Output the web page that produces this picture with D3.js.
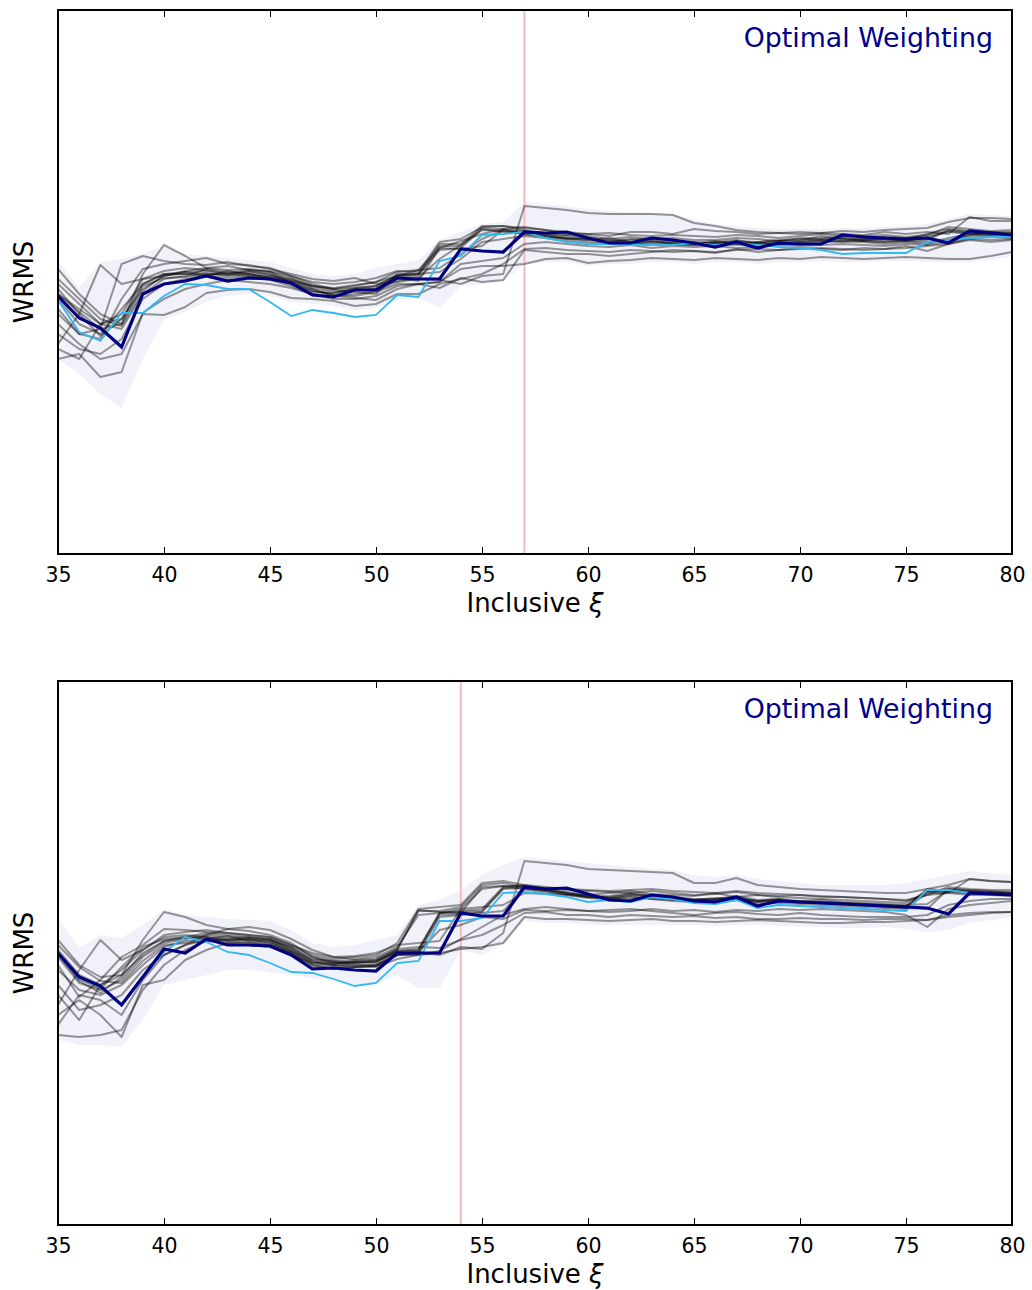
<!DOCTYPE html>
<html>
<head>
<meta charset="utf-8">
<script src="https://cdn.jsdelivr.net/npm/d3@7"></script>
<style>
  body { margin: 0; background: #fff; }
  text { font-family: "DejaVu Sans", sans-serif; }
</style>
</head>
<body>
<div id="chart"></div>
<script>
// x positions (inclusive xi), one value per integer 35..80
var xi = d3.range(35, 81);
var xTicks = [35, 40, 45, 50, 55, 60, 65, 70, 75, 80];
var yDomain = [0, 54.4]; // WRMS, arbitrary units (no tick labels in the original)

// ---- top panel ----
var topCut = 57;
var topOptimal = [25.8,23.6,22.6,20.7,26.0, 27.0,27.3,27.8,27.3,27.6, 27.5,27.1,25.9,25.7,26.4,
  26.4,27.6,27.5,27.5,30.5, 30.3,30.2,32.2,32.1,32.2, 31.6,31.1,31.1,31.6,31.4,
  31.1,30.7,31.2,30.6,31.1, 31.0,31.0,31.9,31.7,31.6, 31.5,31.6,31.1,32.3,32.1, 31.9];
var topCyan = [25.4,22.2,21.3,24.1,24.1, 25.8,27.0,26.9,26.5,26.5, 25.2,23.8,24.4,24.1,23.7,
  23.9,25.9,25.7,29.3,29.8, 31.9,32.0,32.2,31.6,31.2, 31.0,31.0,30.9,30.9,30.9,
  31.1,30.9,31.1,30.9,30.7, 30.6,30.4,30.0,30.1,30.1, 30.1,31.2,31.4,31.6,31.7, 31.8];
var topBandHi = [29.4,26.6,29.2,29.5,30.0, 30.8,30.0,29.8,29.6,29.4, 29.2,28.6,28.0,27.8,28.0,
  28.6,29.0,29.4,31.4,32.2, 33.0,33.2,35.2,35.0,34.8, 34.5,34.3,34.2,34.1,34.0,
  33.4,33.0,32.8,32.6,32.5, 32.5,32.5,32.6,32.6,32.7, 32.8,33.0,33.5,34.0,33.9, 33.8];
var topBandLo = [19.5,18.0,16.0,14.6,19.5, 23.4,24.2,25.2,25.8,26.0, 25.8,25.2,25.0,24.8,24.4,
  24.6,25.4,25.6,24.6,26.8, 27.0,27.2,29.0,29.2,29.2, 28.8,29.0,29.0,29.2,29.2,
  29.0,29.2,29.2,29.0,29.2, 29.2,29.3,29.2,29.2,29.3, 29.3,29.2,29.2,29.2,29.4, 29.8];
var topRuns = [
  [26.5,24.0,21.8,23.5,26.5, 27.8,28.2,28.3,28.0,28.2, 28.0,27.0,26.3,26.0,26.5, 26.6,27.8,27.8,30.8,30.8,
   32.6,32.5,32.3,32.0,31.8, 31.5,31.3,31.4,31.6,31.3, 31.2,31.0,31.3,31.2,31.4, 31.5,31.6,31.7,31.6,31.7,
   31.6,31.8,32.2,32.0,32.1, 32.0],
  [25.5,23.0,22.0,24.5,27.0, 28.0,28.0,27.8,28.3,28.0, 27.6,27.2,26.5,25.8,26.0, 26.3,27.3,27.6,29.5,30.9,
   32.4,32.3,32.0,31.7,31.6, 31.4,31.6,31.2,31.4,31.0, 31.1,31.3,31.0,31.1,31.0, 31.2,31.4,31.3,31.5,31.4,
   31.3,31.4,32.4,32.2,32.0, 32.1],
  [27.0,25.0,23.0,22.5,26.0, 27.5,27.8,28.5,28.2,28.0, 27.8,27.3,26.8,26.4,26.2, 26.0,28.0,28.0,31.0,31.0,
   32.8,32.8,32.4,32.0,31.9, 31.8,31.5,31.7,31.5,31.6, 31.4,31.4,31.6,31.5,31.3, 31.4,31.8,31.5,31.4,31.5,
   31.5,32.0,32.5,32.3,32.2, 32.2],
  [28.5,26.0,24.0,23.0,28.0, 30.9,29.8,28.6,28.8,28.4, 28.2,27.6,26.8,26.5,26.8, 27.2,28.2,28.4,28.6,30.0,
   31.5,32.4,32.2,31.8,31.5, 31.6,31.4,31.2,31.2,31.0, 30.9,31.2,31.0,30.8,31.1, 31.0,31.2,31.3,31.2,31.0,
   31.2,31.0,31.6,32.0,31.8, 31.9],
  [23.0,21.0,19.5,20.0,24.0, 23.9,24.7,26.1,26.4,26.5, 26.2,25.6,25.5,25.3,24.8, 25.0,26.0,26.0,27.0,27.5,
   28.0,29.0,30.5,30.6,30.4, 30.3,30.2,30.4,30.3,30.2, 30.3,30.2,30.4,30.5,30.4, 30.6,30.5,30.4,30.6,30.5,
   30.6,30.8,31.0,31.5,31.4, 31.5],
  [21.0,24.0,28.9,27.0,27.5, 27.8,28.3,28.6,28.4,28.5, 28.3,27.8,27.0,26.5,26.6, 26.8,27.8,28.0,28.2,29.5,
   31.2,31.5,31.8,31.6,31.3, 31.0,31.1,31.0,31.2,31.1, 31.0,31.1,31.2,31.1,31.0, 31.2,31.3,31.2,31.3,31.2,
   31.3,31.2,31.4,31.8,31.9, 31.8],
  [19.5,20.0,17.7,18.2,24.1, 25.5,26.5,27.0,27.4,27.2, 27.0,26.6,26.0,25.8,25.6, 25.4,26.5,27.0,27.2,28.5,
   28.8,28.8,29.0,29.5,29.6, 29.1,29.3,29.4,29.6,29.5, 29.4,29.6,29.5,29.4,29.6, 29.5,29.7,29.6,29.5,29.6,
   29.7,29.6,29.5,29.5,29.8, 30.2],
  [24.0,22.0,21.5,25.5,28.5, 29.0,29.3,29.6,29.0,28.9, 28.5,28.0,27.5,27.3,27.6, 27.0,27.2,27.5,27.4,27.0,
   27.8,28.0,34.8,34.6,34.4, 34.1,34.0,34.0,34.0,33.9, 33.1,32.8,32.4,32.2,32.1, 32.0,32.1,32.3,32.2,32.4,
   32.5,32.6,33.2,33.6,33.6, 33.5],
  [26.0,24.5,23.0,24.0,27.5, 28.3,28.6,28.4,28.0,27.8, 27.7,27.4,26.8,26.6,26.9, 27.2,27.8,28.4,30.6,31.3,
   32.0,32.5,32.7,32.4,32.0, 32.0,31.8,32.2,32.2,32.0, 32.5,32.3,32.2,32.0,32.1, 32.2,32.1,32.0,31.9,32.2,
   32.0,32.2,32.0,33.7,33.3, 33.3],
  [22.0,20.5,20.0,21.5,25.5, 27.0,27.5,27.8,27.6,27.8, 27.4,26.8,26.0,25.5,25.5, 25.8,26.8,27.0,26.6,27.6,
   27.2,27.4,30.4,30.2,30.0, 30.0,29.8,30.0,30.2,30.4, 30.3,30.1,30.5,30.2,30.4, 30.5,30.6,30.5,30.4,30.5,
   30.8,30.3,31.0,31.4,31.2, 31.4],
  [26.0,24.2,22.5,23.0,26.8, 27.6,27.7,28.0,27.9,28.3, 27.9,27.5,26.6,26.2,26.4, 26.5,27.6,27.3,30.6,30.5,
   30.8,32.4,32.0,31.8,31.5, 31.2,31.0,31.1,31.0,30.9, 30.9,31.0,30.9,31.2,31.3, 31.6,31.4,31.5,31.3,31.2,
   31.4,31.6,31.3,31.9,32.2, 32.0],
  [24.5,22.0,22.5,29.0,29.8, 29.3,29.0,28.9,29.2,28.8, 28.6,27.8,27.2,27.0,27.2, 27.6,28.3,28.2,31.2,31.5,
   32.7,32.8,32.6,32.4,32.2, 32.0,32.1,31.9,31.8,31.9, 31.8,31.7,31.9,31.8,31.6, 31.8,32.0,31.8,31.8,31.9,
   31.7,31.9,32.7,32.5,32.3, 32.4],
  [20.5,19.5,23.0,23.5,27.0, 28.0,28.2,27.9,28.1,28.4, 28.2,27.2,26.4,25.9,25.8, 26.2,27.0,27.0,27.2,29.0,
   29.3,29.6,31.0,31.2,31.0, 30.8,30.7,30.9,30.6,30.8, 30.7,30.8,30.6,30.7,30.9, 30.8,30.9,31.0,30.9,30.8,
   31.0,30.9,31.2,31.6,31.7, 31.6],
  [27.5,25.5,23.5,22.8,26.3, 27.9,28.0,28.1,27.8,28.0, 27.6,27.0,26.2,26.1,26.6, 26.8,27.9,28.0,30.4,30.6,
   32.5,32.2,32.1,31.9,31.6, 31.4,31.2,31.5,31.3,31.2, 31.0,31.2,31.4,31.0,31.3, 31.3,31.5,31.6,31.4,31.5,
   31.4,31.6,32.3,32.1,32.0, 31.9]
];

// ---- bottom panel ----
var botCut = 54;
var botOptimal = [27.2,24.8,23.9,22.0,24.8, 27.6,27.2,28.6,28.0,28.0, 27.9,27.0,25.6,25.7,25.5,
  25.4,27.2,27.2,27.2,31.2, 30.9,30.9,33.8,33.6,33.7, 33.1,32.5,32.4,33.0,32.8,
  32.4,32.3,32.8,31.9,32.4, 32.3,32.2,32.1,32.0,31.9, 31.8,31.7,31.1,33.2,33.1, 33.0];
var botCyan = [27.2,24.7,23.8,22.1,24.9, 27.3,28.8,28.3,27.3,27.0, 26.2,25.3,25.2,24.6,23.9,
  24.2,26.2,26.4,30.4,30.4, 30.7,33.2,33.3,33.1,32.8, 32.3,32.5,32.3,32.8,32.6,
  32.2,32.1,32.5,31.7,32.0, 31.9,31.8,31.7,31.6,31.5, 31.4,33.5,33.5,33.2,33.1, 33.0];
var botBandHi = [30.7,27.7,29.0,28.7,30.0, 31.6,31.0,30.8,30.6,30.5, 30.4,29.5,28.2,27.8,28.0,
  28.5,29.0,32.0,32.5,33.5, 35.0,36.0,36.8,36.6,36.4, 36.2,36.0,35.8,35.6,35.5,
  35.0,34.8,35.0,34.6,34.4, 34.2,34.0,34.0,34.0,34.0, 34.2,34.6,35.0,35.4,35.2, 35.0];
var botBandLo = [18.5,18.0,18.0,17.8,20.5, 24.0,24.5,25.0,25.5,25.5, 25.3,25.0,24.7,24.5,24.0,
  24.0,25.0,23.7,23.7,27.5, 27.0,28.0,30.4,30.2,30.2, 30.0,30.0,30.0,30.0,30.0,
  30.0,29.9,30.0,30.0,29.9, 29.8,29.8,29.7,29.7,29.8, 29.6,29.3,29.5,30.2,30.5, 30.8];
var botRuns = [
  [27.5,25.0,24.0,25.5,27.5, 28.8,29.0,28.8,28.6,28.5, 28.4,27.6,26.6,26.4,26.2, 26.3,27.5,31.4,31.4,31.8,
   34.0,34.2,33.8,33.5,33.3, 33.0,33.2,33.4,33.1,33.0, 32.9,33.2,32.8,33.0,32.8, 32.7,32.6,32.5,32.4,32.3,
   32.2,33.4,33.6,33.4,33.3, 33.2],
  [26.8,24.2,23.5,24.5,26.8, 28.2,28.6,29.0,28.8,28.7, 28.6,27.8,26.4,26.0,26.2, 26.4,27.4,27.6,31.2,31.4,
   31.6,33.8,34.0,33.6,33.2, 32.9,32.8,33.0,33.0,32.8, 32.6,32.6,32.9,32.5,32.6, 32.4,32.5,32.3,32.2,32.1,
   32.0,32.1,33.5,33.4,33.3, 33.3],
  [28.5,26.0,24.8,25.0,28.5, 31.3,30.8,30.0,29.6,29.8, 29.5,28.6,27.5,26.8,26.6, 26.8,27.8,31.0,31.2,31.6,
   33.6,33.9,33.9,33.7,33.5, 33.4,33.3,33.2,33.4,33.2, 33.0,33.1,33.3,33.0,32.9, 33.0,32.8,32.8,32.7,32.6,
   32.5,33.0,33.8,33.6,33.5, 33.5],
  [22.0,25.5,28.5,26.5,27.5, 29.0,29.3,29.5,29.2,29.0, 28.8,28.0,27.2,26.8,26.9, 27.2,28.0,28.2,28.4,31.6,
   31.8,32.0,33.2,33.1,33.0, 32.8,32.7,32.6,32.8,32.7, 32.5,32.7,32.6,32.4,32.5, 32.3,32.2,32.2,32.0,31.9,
   31.8,33.6,33.4,33.2,33.1, 33.0],
  [19.0,18.8,19.0,19.5,23.5, 26.0,27.5,28.4,28.6,28.8, 28.5,27.8,26.8,26.2,26.3, 26.4,27.2,27.3,27.0,27.8,
   27.6,29.2,36.4,36.2,36.0, 35.6,35.5,35.4,35.3,35.2, 34.2,34.2,34.7,34.0,33.8, 33.6,33.5,33.4,33.3,33.2,
   33.2,33.6,34.0,34.6,34.4, 34.3],
  [21.0,22.5,21.0,18.8,24.0, 24.5,26.5,27.5,28.2,28.0, 27.8,27.0,26.2,26.0,25.8, 25.8,26.6,27.0,27.2,27.6,
   27.8,28.2,30.8,30.6,30.6, 30.5,30.4,30.5,30.6,30.4, 30.4,30.3,30.4,30.5,30.4, 30.3,30.2,30.2,30.3,30.3,
   30.4,30.5,30.8,31.0,31.2, 31.3],
  [24.0,21.5,22.0,23.0,25.5, 27.0,28.0,28.5,28.4,28.6, 28.2,27.4,26.5,26.3,26.0, 25.9,27.0,27.3,29.5,30.0,
   30.8,30.6,31.5,31.4,31.5, 31.4,31.3,31.4,31.6,31.4, 31.5,31.3,31.5,31.4,31.6, 31.5,31.6,31.5,31.4,31.3,
   31.0,29.8,31.6,32.0,32.2, 32.4],
  [27.0,24.6,23.6,25.8,27.8, 28.6,28.8,29.2,29.0,28.8, 28.6,27.6,26.2,26.1,26.4, 26.5,27.6,31.5,31.3,31.2,
   33.8,33.9,33.6,33.2,33.0, 32.7,32.6,32.9,32.6,32.5, 32.4,32.4,32.6,32.3,32.4, 32.4,32.3,32.2,32.1,32.0,
   31.9,33.4,33.3,33.2,33.2, 33.1],
  [25.5,23.5,23.0,24.0,26.0, 27.8,28.4,28.6,28.5,28.6, 28.4,27.4,26.0,25.9,26.0, 26.0,27.3,27.4,31.0,31.1,
   31.3,33.6,33.7,33.4,33.1, 32.8,32.9,33.2,32.9,32.6, 32.5,32.5,32.7,32.3,32.5, 32.2,32.2,32.1,32.0,31.8,
   31.7,31.6,33.6,33.5,33.4, 33.2],
  [26.0,22.8,24.5,26.8,28.0, 29.6,29.5,29.3,29.2,29.0, 28.8,28.0,27.0,26.6,26.8, 27.0,28.2,31.6,31.8,32.0,
   34.2,34.4,34.0,33.8,33.6, 33.5,33.4,33.5,33.6,33.4, 33.3,33.2,33.4,33.2,33.1, 33.0,32.9,32.8,32.7,32.6,
   32.4,33.0,33.2,34.6,34.4, 34.3],
  [23.0,20.5,24.0,25.0,27.0, 28.4,28.7,28.8,28.4,28.2, 28.0,27.2,26.0,25.6,25.8, 26.0,27.0,27.0,27.4,28.6,
   29.8,31.0,31.6,31.8,31.6, 31.4,31.5,31.6,31.4,31.2, 31.0,31.2,31.3,31.1,31.0, 31.2,31.0,30.9,30.8,30.8,
   30.8,31.0,32.0,32.4,32.6, 32.6],
  [28.0,25.8,24.4,24.2,26.4, 28.0,28.2,28.4,28.2,28.3, 28.0,27.2,25.8,25.7,25.8, 25.9,27.0,27.1,30.8,31.0,
   31.2,31.4,33.6,33.5,33.2, 32.8,32.6,32.8,32.6,32.4, 32.3,32.3,32.5,32.1,32.2, 32.1,32.0,31.9,31.8,31.7,
   31.6,33.2,33.2,33.0,33.0, 32.9],
  [20.0,23.0,22.5,21.0,24.5, 27.0,28.0,29.0,29.6,29.4, 29.0,28.2,26.8,26.4,26.5, 26.6,27.6,27.8,27.7,28.5,
   29.0,30.0,31.2,31.3,31.0, 31.0,30.8,31.0,30.9,30.8, 30.9,30.7,30.8,30.6,30.6, 30.7,30.6,30.6,30.5,30.6,
   30.6,30.5,31.0,31.2,31.3, 31.3],
  [27.2,24.4,23.2,24.8,27.2, 28.4,28.8,28.6,28.9,28.4, 28.2,27.3,26.3,26.2,26.3, 26.2,27.4,27.5,31.2,31.3,
   31.4,33.7,33.8,33.4,33.1, 33.0,32.7,33.1,32.8,32.7, 32.5,32.6,32.8,32.4,32.6, 32.3,32.3,32.2,32.1,32.0,
   31.9,33.3,33.5,33.3,33.2, 33.1]
];

var W = 1032, H = 1290;
var svg = d3.select("#chart").append("svg").attr("width", W).attr("height", H);

var x = d3.scaleLinear().domain([35, 80]).range([58, 1012]);

function drawPanel(top, runs, bandHi, bandLo, cyan, optimal, cut) {
  var h = 544;
  var y = d3.scaleLinear().domain(yDomain).range([top + h, top]);
  var g = svg.append("g");

  // clip so lines stay inside the frame
  var cid = "clip" + top;
  svg.append("clipPath").attr("id", cid).append("rect")
    .attr("x", 58).attr("y", top).attr("width", 954).attr("height", h);
  var plot = g.append("g").attr("clip-path", "url(#" + cid + ")");

  var band = d3.area().x(function(d, i){ return x(xi[i]); })
    .y0(function(d, i){ return y(bandLo[i]); })
    .y1(function(d){ return y(d); });
  plot.append("path").datum(bandHi).attr("d", band)
    .attr("fill", "#f1f1f9").attr("stroke", "none");

  plot.append("line")
    .attr("x1", x(cut)).attr("x2", x(cut))
    .attr("y1", top).attr("y2", top + h)
    .attr("stroke", "#f2bcbe").attr("stroke-width", 2);

  var line = d3.line().x(function(d, i){ return x(xi[i]); }).y(function(d){ return y(d); });

  plot.selectAll("path.run").data(runs).enter().append("path")
    .attr("class", "run")
    .attr("d", line)
    .attr("fill", "none")
    .attr("stroke", "#000")
    .attr("stroke-opacity", 0.4)
    .attr("stroke-width", 2)
    .attr("stroke-linejoin", "round");

  plot.append("path").datum(cyan).attr("d", line)
    .attr("fill", "none").attr("stroke", "#33b9f2").attr("stroke-width", 1.8);

  plot.append("path").datum(optimal).attr("d", line)
    .attr("fill", "none").attr("stroke", "#000080").attr("stroke-width", 3.2);

  // axes: inward ticks on bottom and top, no y ticks
  var bottomAx = d3.axisBottom(x).tickValues(xTicks).tickSizeInner(-7).tickSizeOuter(0).tickPadding(13);
  var gb = g.append("g").attr("transform", "translate(0," + (top + h) + ")").call(bottomAx);
  gb.select(".domain").remove();
  gb.selectAll("line").attr("stroke", "#000").attr("stroke-width", 1);
  gb.selectAll("text").attr("font-size", 20.5).attr("fill", "#000")
    .attr("font-family", "DejaVu Sans");

  var topAx = d3.axisTop(x).tickValues(xTicks).tickSizeInner(-7).tickSizeOuter(0).tickFormat("");
  var gt = g.append("g").attr("transform", "translate(0," + top + ")").call(topAx);
  gt.select(".domain").remove();
  gt.selectAll("line").attr("stroke", "#000").attr("stroke-width", 1);

  g.append("rect").attr("x", 58).attr("y", top).attr("width", 954).attr("height", h)
    .attr("fill", "none").attr("stroke", "#000").attr("stroke-width", 2);

  g.append("text").attr("x", 993).attr("y", top + 37)
    .attr("text-anchor", "end").attr("font-size", 26.8).attr("fill", "#00008b")
    .text("Optimal Weighting");

  var lab = g.append("text").attr("x", 535).attr("y", top + h + 58)
    .attr("text-anchor", "middle").attr("font-size", 26).attr("fill", "#000");
  lab.append("tspan").text("Inclusive ");
  lab.append("tspan").attr("font-style", "italic").text("ξ");

  g.append("text")
    .attr("transform", "translate(33," + (top + h / 2) + ") rotate(-90)")
    .attr("text-anchor", "middle").attr("font-size", 26).attr("fill", "#000")
    .text("WRMS");
}

drawPanel(10, topRuns, topBandHi, topBandLo, topCyan, topOptimal, topCut);
drawPanel(681, botRuns, botBandHi, botBandLo, botCyan, botOptimal, botCut);
</script>
</body>
</html>
